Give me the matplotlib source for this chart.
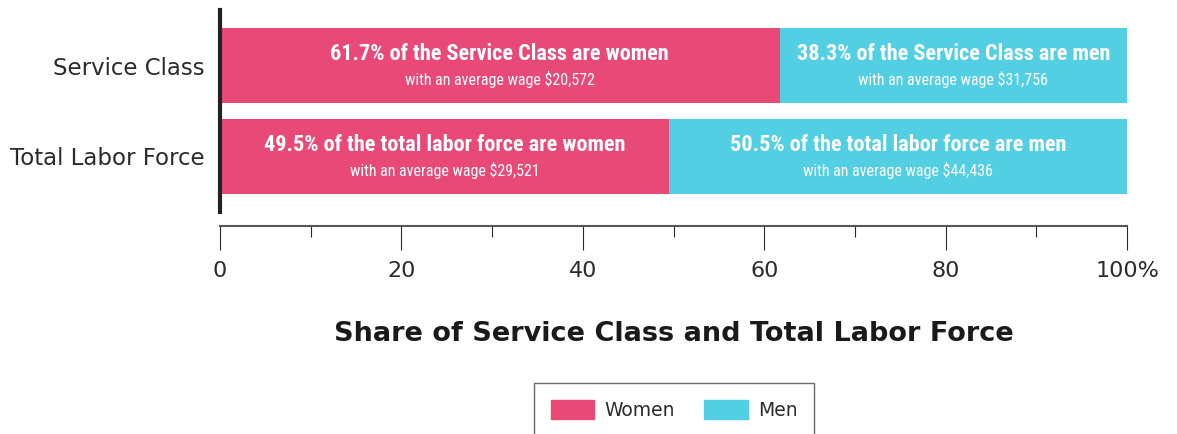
import matplotlib
matplotlib.use('Agg')
import matplotlib.pyplot as plt
from matplotlib.ticker import MultipleLocator, FuncFormatter
from matplotlib.patches import Patch

categories = ['Total Labor Force', 'Service Class']
women = [49.5, 61.7]
men = [50.5, 38.3]
women_wage = ['$29,521', '$20,572']
men_wage = ['$44,436', '$31,756']
women_text = ['49.5% of the total labor force are women', '61.7% of the Service Class are women']
men_text = ['50.5% of the total labor force are men', '38.3% of the Service Class are men']

pink = '#E84977'
cyan = '#53CFE4'
dark = '#2b2b2b'
narrow = ['Roboto Condensed', 'Roboto', 'DejaVu Sans']

fig = plt.figure(figsize=(11.77, 4.34), dpi=100)
ax = fig.add_axes([220 / 1177, 1 - 212 / 434, 907 / 1177, 202 / 434])

ypos = list(range(len(categories)))
ax.barh(ypos, women, height=0.824, color=pink)
ax.barh(ypos, men, left=women, height=0.824, color=cyan)

for i in ypos:
    xw = women[i] / 2
    xm = women[i] + men[i] / 2
    ax.text(xw, i + 0.13, women_text[i], ha='center', va='center', color='white',
            fontsize=16, fontweight='bold', family=narrow)
    ax.text(xw, i - 0.15, 'with an average wage ' + women_wage[i], ha='center', va='center',
            color='white', fontsize=11.5, family=narrow)
    ax.text(xm, i + 0.13, men_text[i], ha='center', va='center', color='white',
            fontsize=16, fontweight='bold', family=narrow)
    ax.text(xm, i - 0.15, 'with an average wage ' + men_wage[i], ha='center', va='center',
            color='white', fontsize=11.5, family=narrow)

ax.set_xlim(0, 100)
ax.set_ylim(-0.61, 1.61)
ax.set_yticks(ypos)
ax.set_yticklabels(categories, fontsize=16.5, color=dark)
ax.tick_params(axis='y', length=0, pad=11)

for s in ['top', 'right']:
    ax.spines[s].set_visible(False)
ax.spines['left'].set_linewidth(3)
ax.spines['left'].set_color('#222222')
ax.spines['bottom'].set_position(('outward', 10))
ax.spines['bottom'].set_linewidth(1.5)
ax.spines['bottom'].set_color('#555555')

ax.xaxis.set_major_locator(MultipleLocator(20))
ax.xaxis.set_minor_locator(MultipleLocator(10))
ax.xaxis.set_major_formatter(FuncFormatter(lambda v, p: '100%' if v == 100 else '%d' % v))
ax.tick_params(axis='x', which='major', length=17, width=0.8, color=dark, labelsize=16,
               labelcolor=dark, pad=8)
ax.tick_params(axis='x', which='minor', length=8, width=0.8, color=dark)

ax.set_xlabel('Share of Service Class and Total Labor Force', fontsize=19.5, fontweight='bold',
              color='#1a1a1a', labelpad=29)

handles = [Patch(color=pink, label='Women'), Patch(color=cyan, label='Men')]
leg = fig.legend(handles=handles, loc='upper center', bbox_to_anchor=(674 / 1177, 1 - 383 / 434),
                 ncol=2, fontsize=13.5, frameon=True, fancybox=False, edgecolor='#444444',
                 handlelength=2.3, handleheight=1.2, handletextpad=0.55, columnspacing=1.6,
                 borderpad=0.9, borderaxespad=0)
leg.get_frame().set_linewidth(1)
for t in leg.get_texts():
    t.set_color(dark)

fig.savefig('out.png', dpi=100)
